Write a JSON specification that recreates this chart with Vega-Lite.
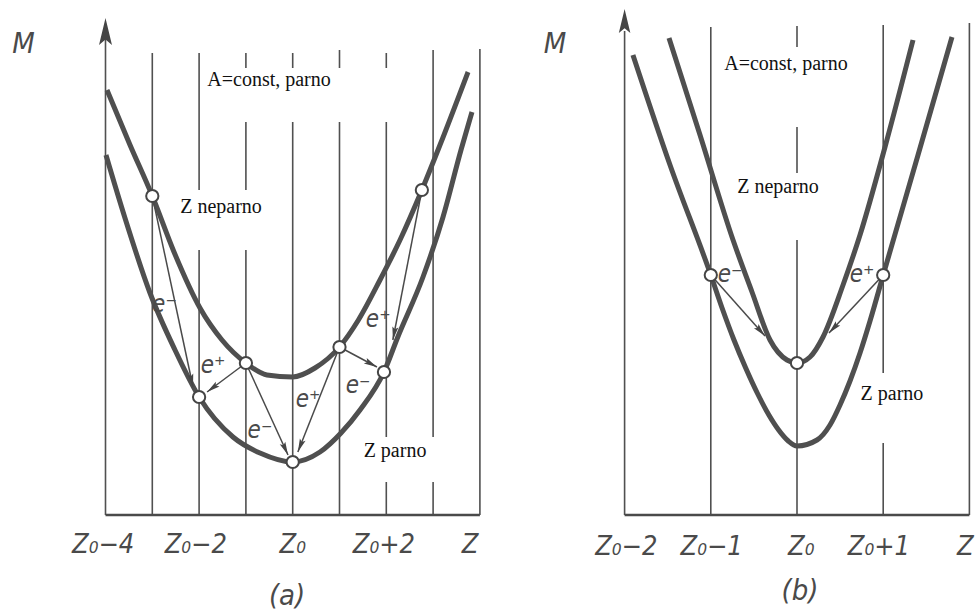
{
  "$schema": "https://vega.github.io/schema/vega-lite/v6.json",
  "width": 975,
  "height": 611,
  "autosize": {"type": "none"},
  "padding": 0,
  "background": "white",
  "config": {"view": {"stroke": null}},
  "datasets": {
    "a_curves": [
      {"curve": "odd", "k": -3.968, "M": 425}, {"curve": "odd", "k": -3.476, "M": 370}, {"curve": "odd", "k": -3, "M": 319},
      {"curve": "odd", "k": -2.536, "M": 263}, {"curve": "odd", "k": -1.981, "M": 207}, {"curve": "odd", "k": -1.511, "M": 175},
      {"curve": "odd", "k": -1, "M": 152}, {"curve": "odd", "k": -0.551, "M": 140}, {"curve": "odd", "k": 0, "M": 138},
      {"curve": "odd", "k": 0.476, "M": 147}, {"curve": "odd", "k": 1, "M": 168}, {"curve": "odd", "k": 1.404, "M": 195},
      {"curve": "odd", "k": 1.865, "M": 235}, {"curve": "odd", "k": 2.293, "M": 275}, {"curve": "odd", "k": 2.76, "M": 325},
      {"curve": "odd", "k": 3.147, "M": 370}, {"curve": "odd", "k": 3.746, "M": 443},
      {"curve": "even", "k": -3.99, "M": 360}, {"curve": "even", "k": -3.584, "M": 297}, {"curve": "even", "k": -3.049, "M": 222},
      {"curve": "even", "k": -2.515, "M": 165}, {"curve": "even", "k": -2, "M": 118}, {"curve": "even", "k": -1.276, "M": 78},
      {"curve": "even", "k": -0.699, "M": 62}, {"curve": "even", "k": 0, "M": 53}, {"curve": "even", "k": 0.583, "M": 63},
      {"curve": "even", "k": 1.032, "M": 82}, {"curve": "even", "k": 1.438, "M": 105}, {"curve": "even", "k": 1.95, "M": 143},
      {"curve": "even", "k": 2.246, "M": 178}, {"curve": "even", "k": 2.784, "M": 238}, {"curve": "even", "k": 3.212, "M": 298},
      {"curve": "even", "k": 3.596, "M": 365}, {"curve": "even", "k": 3.831, "M": 403}
    ],
    "a_vlines": [
      {"k": -4, "M1": 0, "M2": 480}, {"k": -3, "M1": 0, "M2": 462}, {"k": -2, "M1": 0, "M2": 462},
      {"k": -1, "M1": 0, "M2": 462}, {"k": 0, "M1": 0, "M2": 462}, {"k": 1, "M1": 0, "M2": 465},
      {"k": 2, "M1": 0, "M2": 462}, {"k": 3, "M1": 0, "M2": 465}, {"k": 4, "M1": 0, "M2": 466}
    ],
    "a_base": [{"k1": -4, "k2": 4, "M": 0}],
    "a_axisarrow": [{"k": -4, "M": 497}],
    "a_boxes": [
      {"k1": -1.92, "k2": 2.29, "M1": 393, "M2": 447},
      {"k1": -2.3, "k2": -0.65, "M1": 265, "M2": 325},
      {"k1": 1.45, "k2": 3.15, "M1": 33, "M2": 78}
    ],
    "a_circles": [
      {"k": -3, "M": 319}, {"k": -1, "M": 152}, {"k": 1, "M": 168}, {"k": 2.76, "M": 325},
      {"k": -2, "M": 118}, {"k": 0, "M": 53}, {"k": 1.95, "M": 143}
    ],
    "a_arrows": [
      {"k1": -3, "M1": 319, "k2": -2.13, "M2": 128},
      {"k1": -1, "M1": 152, "k2": -1.83, "M2": 123},
      {"k1": -1, "M1": 152, "k2": -0.1, "M2": 60},
      {"k1": 1, "M1": 168, "k2": 0.11, "M2": 63},
      {"k1": 1, "M1": 168, "k2": 1.8, "M2": 148},
      {"k1": 2.76, "M1": 325, "k2": 2.14, "M2": 175}
    ],
    "a_text": [
      {"kind": "serif", "k": -0.506, "M": 429, "t": "A=const, parno"},
      {"kind": "serif", "k": -1.532, "M": 302, "t": "Z neparno"},
      {"kind": "serif", "k": 2.186, "M": 58, "t": "Z parno"},
      {"kind": "e", "k": -2.74, "M": 203, "t": "e⁻"},
      {"kind": "e", "k": -1.703, "M": 142, "t": "e⁺"},
      {"kind": "e", "k": -0.7, "M": 77, "t": "e⁻"},
      {"kind": "e", "k": 0.33, "M": 108, "t": "e⁺"},
      {"kind": "e", "k": 1.395, "M": 122, "t": "e⁻"},
      {"kind": "e", "k": 1.827, "M": 188, "t": "e⁺"},
      {"kind": "tick", "k": -4.05, "M": -38, "t": "Z₀−4"},
      {"kind": "tick", "k": -2.07, "M": -38, "t": "Z₀−2"},
      {"kind": "tick", "k": 0, "M": -38, "t": "Z₀"},
      {"kind": "tick", "k": 1.95, "M": -38, "t": "Z₀+2"},
      {"kind": "tick", "k": 3.79, "M": -38, "t": "Z"},
      {"kind": "big", "k": -5.752, "M": 462, "t": "M"},
      {"kind": "big", "k": -0.12, "M": -90, "t": "(a)"}
    ],
    "b_curves": [
      {"curve": "wide", "k": -1.903, "M": 460}, {"curve": "wide", "k": -1.473, "M": 350}, {"curve": "wide", "k": -1, "M": 240},
      {"curve": "wide", "k": -0.865, "M": 206}, {"curve": "wide", "k": -0.731, "M": 175}, {"curve": "wide", "k": -0.595, "M": 147},
      {"curve": "wide", "k": -0.461, "M": 122}, {"curve": "wide", "k": -0.326, "M": 100}, {"curve": "wide", "k": -0.213, "M": 85},
      {"curve": "wide", "k": -0.101, "M": 74}, {"curve": "wide", "k": 0, "M": 69}, {"curve": "wide", "k": 0.232, "M": 75},
      {"curve": "wide", "k": 0.383, "M": 90}, {"curve": "wide", "k": 0.499, "M": 110}, {"curve": "wide", "k": 0.615, "M": 134},
      {"curve": "wide", "k": 0.731, "M": 162}, {"curve": "wide", "k": 0.847, "M": 194},
      {"curve": "wide", "k": 1, "M": 240}, {"curve": "wide", "k": 1.404, "M": 360}, {"curve": "wide", "k": 1.798, "M": 478},
      {"curve": "narrow", "k": -1.485, "M": 477}, {"curve": "narrow", "k": -1.125, "M": 380}, {"curve": "narrow", "k": -0.742, "M": 275},
      {"curve": "narrow", "k": -0.522, "M": 223}, {"curve": "narrow", "k": -0.313, "M": 175}, {"curve": "narrow", "k": -0.116, "M": 155},
      {"curve": "narrow", "k": 0, "M": 152}, {"curve": "narrow", "k": 0.151, "M": 158}, {"curve": "narrow", "k": 0.302, "M": 178},
      {"curve": "narrow", "k": 0.534, "M": 230}, {"curve": "narrow", "k": 0.731, "M": 280}, {"curve": "narrow", "k": 1.021, "M": 368},
      {"curve": "narrow", "k": 1.346, "M": 475}
    ],
    "b_vlines": [
      {"k": -2, "M1": 0, "M2": 484}, {"k": -1, "M1": 0, "M2": 488}, {"k": 0, "M1": 0, "M2": 489},
      {"k": 1, "M1": 0, "M2": 490}, {"k": 2, "M1": 0, "M2": 492}
    ],
    "b_base": [{"k1": -2, "k2": 2, "M": 0}],
    "b_axisarrow": [{"k": -2, "M": 506}],
    "b_boxes": [
      {"k1": -0.893, "k2": 0.847, "M1": 388, "M2": 468},
      {"k1": -0.696, "k2": 0.696, "M1": 275, "M2": 342},
      {"k1": 0.708, "k2": 1.52, "M1": 72, "M2": 142}
    ],
    "b_circles": [{"k": -1, "M": 240}, {"k": 0, "M": 152}, {"k": 1, "M": 240}],
    "b_arrows": [
      {"k1": -1, "M1": 240, "k2": -0.371, "M2": 179},
      {"k1": 1, "M1": 240, "k2": 0.371, "M2": 182}
    ],
    "b_text": [
      {"kind": "serif", "k": -0.128, "M": 445, "t": "A=const, parno"},
      {"kind": "serif", "k": -0.22, "M": 322, "t": "Z neparno"},
      {"kind": "serif", "k": 1.102, "M": 115, "t": "Z parno"},
      {"kind": "e", "k": -0.777, "M": 233, "t": "e⁻"},
      {"kind": "e", "k": 0.754, "M": 233, "t": "e⁺"},
      {"kind": "tick", "k": -1.98, "M": -40, "t": "Z₀−2"},
      {"kind": "tick", "k": -0.99, "M": -40, "t": "Z₀−1"},
      {"kind": "tick", "k": 0.05, "M": -40, "t": "Z₀"},
      {"kind": "tick", "k": 0.95, "M": -40, "t": "Z₀+1"},
      {"kind": "tickL", "k": 1.856, "M": -40, "t": "Z"},
      {"kind": "big", "k": -2.807, "M": 462, "t": "M"},
      {"kind": "big", "k": 0.035, "M": -85, "t": "(b)"}
    ]
  },
  "resolve": {"scale": {"x": "independent"}},
  "layer": [
    {
      "layer": [
        {
          "data": {"name": "a_vlines"},
          "mark": {"type": "rule", "color": "#505050", "strokeWidth": 1.6},
          "encoding": {
            "x": {"field": "k", "type": "quantitative", "scale": {"domain": [-6.2543, 14.5791], "nice": false, "zero": false}, "axis": null},
            "y": {"field": "M1", "type": "quantitative", "scale": {"domain": [-96, 515], "nice": false, "zero": false}, "axis": null},
            "y2": {"field": "M2"}
          }
        },
        {
          "data": {"name": "a_boxes"},
          "mark": {"type": "rect", "fill": "white", "strokeWidth": 0},
          "encoding": {
            "x": {"field": "k1", "type": "quantitative", "scale": {"domain": [-6.2543, 14.5791], "nice": false, "zero": false}, "axis": null},
            "x2": {"field": "k2"},
            "y": {"field": "M1", "type": "quantitative", "scale": {"domain": [-96, 515], "nice": false, "zero": false}, "axis": null},
            "y2": {"field": "M2"}
          }
        },
        {
          "data": {"name": "a_base"},
          "mark": {"type": "rule", "color": "#4a4a4a", "strokeWidth": 2.4},
          "encoding": {
            "x": {"field": "k1", "type": "quantitative", "scale": {"domain": [-6.2543, 14.5791], "nice": false, "zero": false}, "axis": null},
            "x2": {"field": "k2"},
            "y": {"field": "M", "type": "quantitative", "scale": {"domain": [-96, 515], "nice": false, "zero": false}, "axis": null}
          }
        },
        {
          "data": {"name": "a_axisarrow"},
          "mark": {"type": "point", "shape": "M0,0L-0.24,1L0,0.8L0.24,1Z", "filled": true, "color": "#454545", "opacity": 1, "size": 2916, "strokeWidth": 0},
          "encoding": {
            "x": {"field": "k", "type": "quantitative", "scale": {"domain": [-6.2543, 14.5791], "nice": false, "zero": false}, "axis": null},
            "y": {"field": "M", "type": "quantitative", "scale": {"domain": [-96, 515], "nice": false, "zero": false}, "axis": null}
          }
        },
        {
          "data": {"name": "a_curves"},
          "mark": {"type": "line", "interpolate": "monotone", "color": "#4f4f4f", "strokeWidth": 5, "strokeCap": "butt"},
          "encoding": {
            "x": {"field": "k", "type": "quantitative", "scale": {"domain": [-6.2543, 14.5791], "nice": false, "zero": false}, "axis": null},
            "y": {"field": "M", "type": "quantitative", "scale": {"domain": [-96, 515], "nice": false, "zero": false}, "axis": null},
            "detail": {"field": "curve"}
          }
        },
        {
          "data": {"name": "a_arrows"},
          "mark": {"type": "rule", "color": "#4a4a4a", "strokeWidth": 1.5},
          "encoding": {
            "x": {"field": "k1", "type": "quantitative", "scale": {"domain": [-6.2543, 14.5791], "nice": false, "zero": false}, "axis": null},
            "x2": {"field": "k2"},
            "y": {"field": "M1", "type": "quantitative", "scale": {"domain": [-96, 515], "nice": false, "zero": false}, "axis": null},
            "y2": {"field": "M2"}
          }
        },
        {
          "data": {"name": "a_arrows"},
          "transform": [{"calculate": "atan2((datum.k2 - datum.k1) * 46.8, datum.M2 - datum.M1) * 180 / PI", "as": "ang"}],
          "mark": {"type": "point", "shape": "M0,0L-0.23,1L0,0.82L0.23,1Z", "filled": true, "color": "#454545", "opacity": 1, "size": 700, "strokeWidth": 0},
          "encoding": {
            "x": {"field": "k2", "type": "quantitative", "scale": {"domain": [-6.2543, 14.5791], "nice": false, "zero": false}, "axis": null},
            "y": {"field": "M2", "type": "quantitative", "scale": {"domain": [-96, 515], "nice": false, "zero": false}, "axis": null},
            "angle": {"field": "ang", "type": "quantitative", "scale": null}
          }
        },
        {
          "data": {"name": "a_circles"},
          "mark": {"type": "point", "shape": "circle", "filled": true, "fill": "white", "stroke": "#454545", "strokeWidth": 2, "opacity": 1, "size": 150},
          "encoding": {
            "x": {"field": "k", "type": "quantitative", "scale": {"domain": [-6.2543, 14.5791], "nice": false, "zero": false}, "axis": null},
            "y": {"field": "M", "type": "quantitative", "scale": {"domain": [-96, 515], "nice": false, "zero": false}, "axis": null}
          }
        },
        {
          "data": {"name": "a_text"},
          "transform": [{"filter": "datum.kind === 'serif'"}],
          "mark": {"type": "text", "font": "Liberation Serif", "fontSize": 20, "color": "#111111", "align": "center", "baseline": "alphabetic"},
          "encoding": {
            "x": {"field": "k", "type": "quantitative", "scale": {"domain": [-6.2543, 14.5791], "nice": false, "zero": false}, "axis": null},
            "y": {"field": "M", "type": "quantitative", "scale": {"domain": [-96, 515], "nice": false, "zero": false}, "axis": null},
            "text": {"field": "t"}
          }
        },
        {
          "data": {"name": "a_text"},
          "transform": [{"filter": "datum.kind === 'e'"}],
          "mark": {"type": "text", "font": "DejaVu Sans Condensed, DejaVu Sans", "fontStyle": "italic", "fontSize": 24, "color": "#4a4a4a", "align": "center", "baseline": "alphabetic"},
          "encoding": {
            "x": {"field": "k", "type": "quantitative", "scale": {"domain": [-6.2543, 14.5791], "nice": false, "zero": false}, "axis": null},
            "y": {"field": "M", "type": "quantitative", "scale": {"domain": [-96, 515], "nice": false, "zero": false}, "axis": null},
            "text": {"field": "t"}
          }
        },
        {
          "data": {"name": "a_text"},
          "transform": [{"filter": "datum.kind === 'tick'"}],
          "mark": {"type": "text", "font": "DejaVu Sans Condensed, DejaVu Sans", "fontStyle": "italic", "fontSize": 27, "color": "#4a4a4a", "align": "center", "baseline": "alphabetic"},
          "encoding": {
            "x": {"field": "k", "type": "quantitative", "scale": {"domain": [-6.2543, 14.5791], "nice": false, "zero": false}, "axis": null},
            "y": {"field": "M", "type": "quantitative", "scale": {"domain": [-96, 515], "nice": false, "zero": false}, "axis": null},
            "text": {"field": "t"}
          }
        },
        {
          "data": {"name": "a_text"},
          "transform": [{"filter": "datum.kind === 'big'"}],
          "mark": {"type": "text", "font": "DejaVu Sans Condensed, DejaVu Sans", "fontStyle": "italic", "fontSize": 29, "color": "#4a4a4a", "align": "center", "baseline": "alphabetic"},
          "encoding": {
            "x": {"field": "k", "type": "quantitative", "scale": {"domain": [-6.2543, 14.5791], "nice": false, "zero": false}, "axis": null},
            "y": {"field": "M", "type": "quantitative", "scale": {"domain": [-96, 515], "nice": false, "zero": false}, "axis": null},
            "text": {"field": "t"}
          }
        }
      ]
    },
    {
      "layer": [
        {
          "data": {"name": "b_vlines"},
          "mark": {"type": "rule", "color": "#505050", "strokeWidth": 1.6},
          "encoding": {
            "x": {"field": "k", "type": "quantitative", "scale": {"domain": [-9.2459, 2.065], "nice": false, "zero": false}, "axis": null},
            "y": {"field": "M1", "type": "quantitative", "scale": {"domain": [-96, 515], "nice": false, "zero": false}, "axis": null},
            "y2": {"field": "M2"}
          }
        },
        {
          "data": {"name": "b_boxes"},
          "mark": {"type": "rect", "fill": "white", "strokeWidth": 0},
          "encoding": {
            "x": {"field": "k1", "type": "quantitative", "scale": {"domain": [-9.2459, 2.065], "nice": false, "zero": false}, "axis": null},
            "x2": {"field": "k2"},
            "y": {"field": "M1", "type": "quantitative", "scale": {"domain": [-96, 515], "nice": false, "zero": false}, "axis": null},
            "y2": {"field": "M2"}
          }
        },
        {
          "data": {"name": "b_base"},
          "mark": {"type": "rule", "color": "#4a4a4a", "strokeWidth": 2.4},
          "encoding": {
            "x": {"field": "k1", "type": "quantitative", "scale": {"domain": [-9.2459, 2.065], "nice": false, "zero": false}, "axis": null},
            "x2": {"field": "k2"},
            "y": {"field": "M", "type": "quantitative", "scale": {"domain": [-96, 515], "nice": false, "zero": false}, "axis": null}
          }
        },
        {
          "data": {"name": "b_axisarrow"},
          "mark": {"type": "point", "shape": "M0,0L-0.24,1L0,0.8L0.24,1Z", "filled": true, "color": "#454545", "opacity": 1, "size": 2304, "strokeWidth": 0},
          "encoding": {
            "x": {"field": "k", "type": "quantitative", "scale": {"domain": [-9.2459, 2.065], "nice": false, "zero": false}, "axis": null},
            "y": {"field": "M", "type": "quantitative", "scale": {"domain": [-96, 515], "nice": false, "zero": false}, "axis": null}
          }
        },
        {
          "data": {"name": "b_curves"},
          "mark": {"type": "line", "interpolate": "monotone", "color": "#4f4f4f", "strokeWidth": 5, "strokeCap": "butt"},
          "encoding": {
            "x": {"field": "k", "type": "quantitative", "scale": {"domain": [-9.2459, 2.065], "nice": false, "zero": false}, "axis": null},
            "y": {"field": "M", "type": "quantitative", "scale": {"domain": [-96, 515], "nice": false, "zero": false}, "axis": null},
            "detail": {"field": "curve"}
          }
        },
        {
          "data": {"name": "b_arrows"},
          "mark": {"type": "rule", "color": "#4a4a4a", "strokeWidth": 1.5},
          "encoding": {
            "x": {"field": "k1", "type": "quantitative", "scale": {"domain": [-9.2459, 2.065], "nice": false, "zero": false}, "axis": null},
            "x2": {"field": "k2"},
            "y": {"field": "M1", "type": "quantitative", "scale": {"domain": [-96, 515], "nice": false, "zero": false}, "axis": null},
            "y2": {"field": "M2"}
          }
        },
        {
          "data": {"name": "b_arrows"},
          "transform": [{"calculate": "atan2((datum.k2 - datum.k1) * 86.2, datum.M2 - datum.M1) * 180 / PI", "as": "ang"}],
          "mark": {"type": "point", "shape": "M0,0L-0.23,1L0,0.82L0.23,1Z", "filled": true, "color": "#454545", "opacity": 1, "size": 700, "strokeWidth": 0},
          "encoding": {
            "x": {"field": "k2", "type": "quantitative", "scale": {"domain": [-9.2459, 2.065], "nice": false, "zero": false}, "axis": null},
            "y": {"field": "M2", "type": "quantitative", "scale": {"domain": [-96, 515], "nice": false, "zero": false}, "axis": null},
            "angle": {"field": "ang", "type": "quantitative", "scale": null}
          }
        },
        {
          "data": {"name": "b_circles"},
          "mark": {"type": "point", "shape": "circle", "filled": true, "fill": "white", "stroke": "#454545", "strokeWidth": 2, "opacity": 1, "size": 150},
          "encoding": {
            "x": {"field": "k", "type": "quantitative", "scale": {"domain": [-9.2459, 2.065], "nice": false, "zero": false}, "axis": null},
            "y": {"field": "M", "type": "quantitative", "scale": {"domain": [-96, 515], "nice": false, "zero": false}, "axis": null}
          }
        },
        {
          "data": {"name": "b_text"},
          "transform": [{"filter": "datum.kind === 'serif'"}],
          "mark": {"type": "text", "font": "Liberation Serif", "fontSize": 20, "color": "#111111", "align": "center", "baseline": "alphabetic"},
          "encoding": {
            "x": {"field": "k", "type": "quantitative", "scale": {"domain": [-9.2459, 2.065], "nice": false, "zero": false}, "axis": null},
            "y": {"field": "M", "type": "quantitative", "scale": {"domain": [-96, 515], "nice": false, "zero": false}, "axis": null},
            "text": {"field": "t"}
          }
        },
        {
          "data": {"name": "b_text"},
          "transform": [{"filter": "datum.kind === 'e'"}],
          "mark": {"type": "text", "font": "DejaVu Sans Condensed, DejaVu Sans", "fontStyle": "italic", "fontSize": 24, "color": "#4a4a4a", "align": "center", "baseline": "alphabetic"},
          "encoding": {
            "x": {"field": "k", "type": "quantitative", "scale": {"domain": [-9.2459, 2.065], "nice": false, "zero": false}, "axis": null},
            "y": {"field": "M", "type": "quantitative", "scale": {"domain": [-96, 515], "nice": false, "zero": false}, "axis": null},
            "text": {"field": "t"}
          }
        },
        {
          "data": {"name": "b_text"},
          "transform": [{"filter": "datum.kind === 'tick'"}],
          "mark": {"type": "text", "font": "DejaVu Sans Condensed, DejaVu Sans", "fontStyle": "italic", "fontSize": 27, "color": "#4a4a4a", "align": "center", "baseline": "alphabetic"},
          "encoding": {
            "x": {"field": "k", "type": "quantitative", "scale": {"domain": [-9.2459, 2.065], "nice": false, "zero": false}, "axis": null},
            "y": {"field": "M", "type": "quantitative", "scale": {"domain": [-96, 515], "nice": false, "zero": false}, "axis": null},
            "text": {"field": "t"}
          }
        },
        {
          "data": {"name": "b_text"},
          "transform": [{"filter": "datum.kind === 'tickL'"}],
          "mark": {"type": "text", "font": "DejaVu Sans Condensed, DejaVu Sans", "fontStyle": "italic", "fontSize": 27, "color": "#4a4a4a", "align": "left", "baseline": "alphabetic"},
          "encoding": {
            "x": {"field": "k", "type": "quantitative", "scale": {"domain": [-9.2459, 2.065], "nice": false, "zero": false}, "axis": null},
            "y": {"field": "M", "type": "quantitative", "scale": {"domain": [-96, 515], "nice": false, "zero": false}, "axis": null},
            "text": {"field": "t"}
          }
        },
        {
          "data": {"name": "b_text"},
          "transform": [{"filter": "datum.kind === 'big'"}],
          "mark": {"type": "text", "font": "DejaVu Sans Condensed, DejaVu Sans", "fontStyle": "italic", "fontSize": 29, "color": "#4a4a4a", "align": "center", "baseline": "alphabetic"},
          "encoding": {
            "x": {"field": "k", "type": "quantitative", "scale": {"domain": [-9.2459, 2.065], "nice": false, "zero": false}, "axis": null},
            "y": {"field": "M", "type": "quantitative", "scale": {"domain": [-96, 515], "nice": false, "zero": false}, "axis": null},
            "text": {"field": "t"}
          }
        }
      ]
    }
  ]
}
